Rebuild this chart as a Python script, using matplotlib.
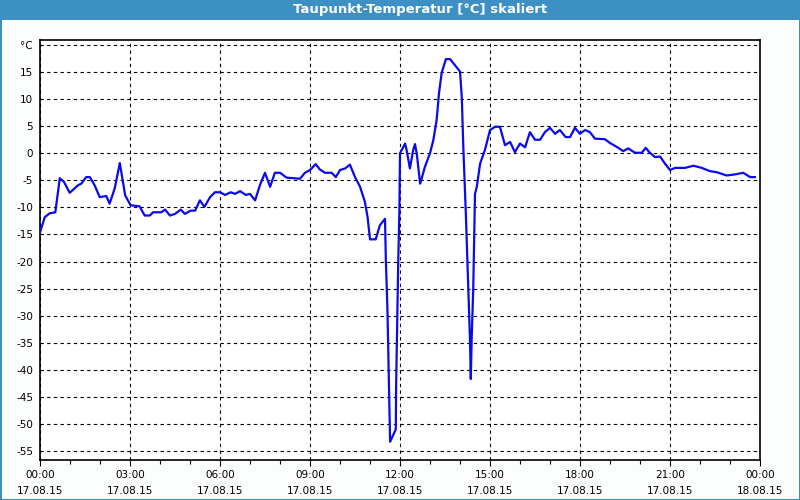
import matplotlib
matplotlib.use("Agg")
import matplotlib.pyplot as plt
from matplotlib.patches import Rectangle
from matplotlib.ticker import MultipleLocator

hours = [0.0, 0.16, 0.32, 0.51, 0.66, 0.8, 0.99, 1.27, 1.38, 1.54, 1.66, 1.82, 1.99, 2.21,
         2.32, 2.49, 2.66, 2.84, 3.02, 3.32, 3.49, 3.66, 3.77, 4.04, 4.17, 4.33, 4.5, 4.69,
         4.83, 5.02, 5.17, 5.33, 5.48, 5.67, 5.83, 6.0, 6.17, 6.36, 6.5, 6.67, 6.86, 7.0,
         7.17, 7.33, 7.5, 7.67, 7.83, 8.0, 8.22, 8.67, 8.83, 9.0, 9.19, 9.33, 9.5, 9.72,
         9.86, 10.0, 10.17, 10.33, 10.5, 10.67, 10.83, 10.92, 11.0, 11.19, 11.33, 11.5,
         11.53, 11.58, 11.61, 11.64, 11.67, 11.76, 11.86, 11.87, 11.91, 11.94, 11.98, 12.0,
         12.17, 12.22, 12.33, 12.44, 12.5, 12.56, 12.67, 12.72, 12.83, 13.0, 13.11, 13.22,
         13.3, 13.39, 13.53, 13.67, 13.83, 14.0, 14.06, 14.11, 14.2, 14.28, 14.33,
         14.36, 14.39, 14.44, 14.5, 14.56, 14.67, 14.83, 15.0, 15.17, 15.33, 15.5, 15.67,
         15.83, 16.0, 16.17, 16.33, 16.5, 16.67, 16.83, 17.0, 17.17, 17.33, 17.52, 17.67,
         17.83, 18.0, 18.17, 18.33, 18.5, 18.83, 19.0, 19.22, 19.44, 19.61, 19.83, 20.06,
         20.19, 20.33, 20.5, 20.67, 20.83, 21.0, 21.17, 21.5, 21.78, 22.06, 22.33, 22.56,
         22.89, 23.17, 23.44, 23.67, 23.83]

dewpoint = [-14.6, -11.8, -11.1, -10.9, -4.6, -5.3, -7.3, -5.9, -5.6, -4.4, -4.4, -5.9, -8.1,
            -7.9, -9.3, -6.5, -1.8, -7.8, -9.6, -9.8, -11.5, -11.5, -10.9, -10.9, -10.4, -11.5,
            -11.2, -10.4, -11.2, -10.6, -10.6, -8.7, -9.9, -8.1, -7.2, -7.2, -7.7, -7.2, -7.5,
            -7.0, -7.7, -7.5, -8.7, -5.9, -3.6, -6.2, -3.6, -3.6, -4.5, -4.7, -3.6, -3.1, -2.0,
            -3.0, -3.6, -3.6, -4.4, -3.1, -2.8, -2.1, -4.4, -6.2, -9.0, -11.8, -15.9, -15.9,
            -13.3, -12.1, -20.1, -28.5, -36.8, -45.1, -53.3, -52.2, -51.0, -43.3, -30.3, -20.4,
            -10.6, 0.0, 1.8, 0.6, -2.8, 0.6, 1.7, -0.1, -5.6, -4.7, -2.5, 0.0, 2.4, 6.1, 11.1,
            14.9, 17.4, 17.4, 16.3, 15.1, 10.4, 1.2, -12.0, -25.4, -34.0, -41.7, -34.0,
            -25.4, -7.5, -6.2, -1.9, 0.6, 4.3, 4.9, 4.9, 1.5, 2.1, 0.2, 1.8, 1.1, 3.9, 2.5, 2.5,
            3.9, 4.7, 3.6, 4.3, 3.0, 3.0, 4.7, 3.6, 4.3, 3.9, 2.7, 2.6, 1.9, 1.2, 0.4, 0.9, 0.1,
            0.1, 1.0, 0.1, -0.7, -0.6, -1.9, -3.1, -2.7, -2.7, -2.3, -2.7, -3.3, -3.5, -4.1,
            -3.9, -3.6, -4.4, -4.4]

x_ticks = [0, 3, 6, 9, 12, 15, 18, 21, 24]
x_labels = ["00:00\n17.08.15", "03:00\n17.08.15", "06:00\n17.08.15", "09:00\n17.08.15",
            "12:00\n17.08.15", "15:00\n17.08.15", "18:00\n17.08.15", "21:00\n17.08.15",
            "00:00\n18.08.15"]
y_ticks = [20, 15, 10, 5, 0, -5, -10, -15, -20, -25, -30, -35, -40, -45, -50, -55]
y_labels = ["°C"] + [str(v) for v in y_ticks[1:]]
title = "Taupunkt-Temperatur [°C] skaliert"

W, H = 800, 500
fig = plt.figure(figsize=(W / 100, H / 100), dpi=100, facecolor="#fcfefd")

# title bar and border
fig.patches.append(Rectangle((0, 1 - 20 / H), 1, 20 / H, transform=fig.transFigure,
                             facecolor="#3d90c4", edgecolor="none", zorder=0))
fig.patches.append(Rectangle((0.5 / W, 0.5 / H), 1 - 1 / W, 1 - 1 / H, transform=fig.transFigure,
                             facecolor="none", edgecolor="#3d90c4", linewidth=1.5, zorder=1))
fig.text(420 / W, 1 - 10 / H, title, color="white", fontsize=9.5, fontweight="bold",
         ha="center", va="center", family=["Liberation Sans Narrow", "DejaVu Sans"])

ax = fig.add_axes([40 / W, 1 - 460 / H, 720 / W, 420 / H])
ax.set_facecolor("white")
ax.plot(hours, dewpoint, color="#0a0aee", linewidth=1.6, zorder=3)

ax.set_xlim(0, 24)
ax.set_ylim(-56.67, 20.93)
ax.set_xticks(x_ticks)
ax.set_xticklabels(x_labels, fontsize=7.5, linespacing=1.8)
ax.xaxis.set_minor_locator(MultipleLocator(1))
ax.set_yticks(y_ticks)
ax.set_yticklabels(y_labels, fontsize=7.5)

ax.tick_params(axis="x", which="major", length=4, width=0.8, pad=3, colors="black")
ax.tick_params(axis="x", which="minor", length=3, width=0.8)
ax.tick_params(axis="y", length=0, pad=5)

ax.grid(True, which="major", color="black", linestyle=(0, (3, 3)), linewidth=0.8)
for s in ax.spines.values():
    s.set_color("black")
    s.set_linewidth(1.2)

fig.savefig("out.png", dpi=100, facecolor=fig.get_facecolor())
